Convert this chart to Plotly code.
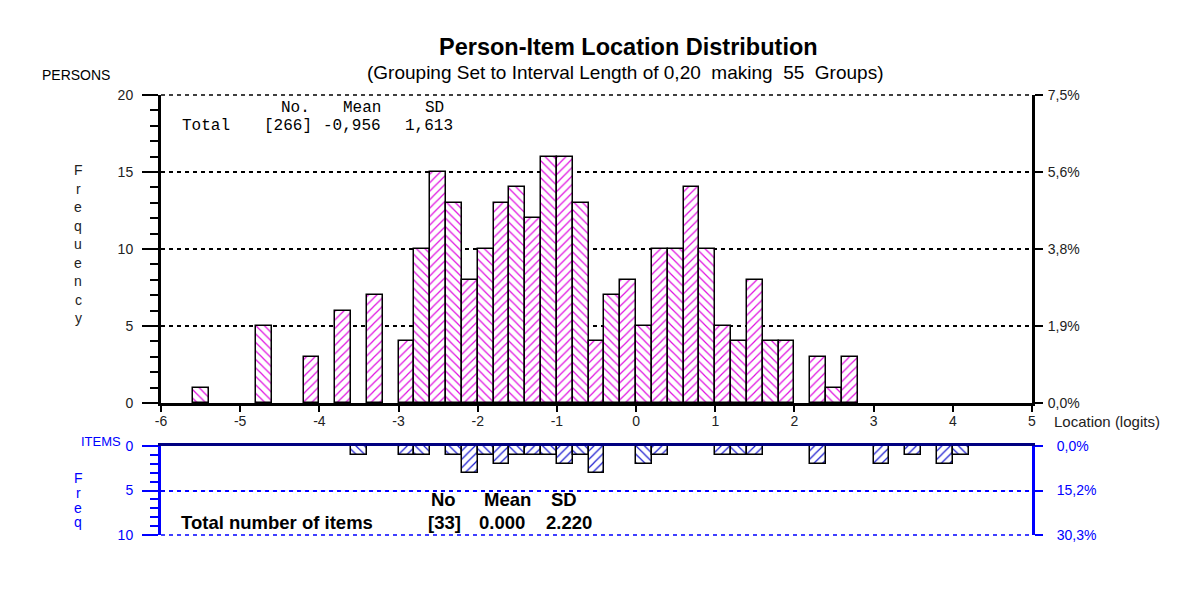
import plotly.graph_objects as go

# ---------------- data ----------------
person_locations = [-5.5, -4.7, -4.1, -3.7, -3.3, -2.9, -2.7, -2.5, -2.3, -2.1, -1.9, -1.7, -1.5,
                    -1.3, -1.1, -0.9, -0.7, -0.5, -0.3, -0.1, 0.1, 0.3, 0.5, 0.7, 0.9, 1.1, 1.3,
                    1.5, 1.7, 1.9, 2.3, 2.5, 2.7]
person_counts = [1, 5, 3, 6, 7, 4, 10, 15, 13, 8, 10, 13, 14,
                 12, 16, 16, 13, 4, 7, 8, 5, 10, 10, 14, 10, 5, 4,
                 8, 4, 4, 3, 1, 3]

item_locations = [-3.5, -2.9, -2.7, -2.3, -2.1, -1.9, -1.7, -1.5, -1.3, -1.1, -0.9, -0.7, -0.5,
                  0.1, 0.3, 1.1, 1.3, 1.5, 2.3, 3.1, 3.5, 3.9, 4.1]
item_counts = [1, 1, 1, 1, 3, 1, 2, 1, 1, 1, 2, 1, 3,
               2, 1, 1, 1, 1, 2, 2, 1, 2, 1]

x_ticks = [-6, -5, -4, -3, -2, -1, 0, 1, 2, 3, 4, 5]
person_ticks = [0, 5, 10, 15, 20]
item_ticks = [0, 5, 10]
bin_width = 0.2
x_min, x_max = -6, 5

title = "Person-Item Location Distribution"
subtitle = "(Grouping Set to Interval Length of 0,20  making  55  Groups)"
person_stats_head = ["No.", "Mean", "SD"]
person_stats_vals = ["Total", "[266]", "-0,956", "1,613"]
item_stats_head = ["No", "Mean", "SD"]
item_stats_vals = ["Total number of items", "[33]", "0.000", "2.220"]

# ---------------- layout helpers ----------------
OFF = 8                            # default page body margin
W, H = 1200 - 2 * OFF, 604 - 2 * OFF
L, R, T, B = 161, 1032, 95, 535    # plot area in page pixels
TOP_BOTTOM = 403                   # page pixel of person axis zero
ITEM_TOP = 446                     # page pixel of item axis zero


def px(x):
    return (x - L) / (R - L)


def py(y):
    return (B - y) / (B - T)


def pct_labels(ticks, total):
    return [f"{t / total * 100:.1f}%".replace(".", ",") for t in ticks]


def hatch(locs):
    return ["\\" if round((v - x_min - bin_width / 2) / bin_width) % 2 == 0 else "/" for v in locs]


FONT = "Liberation Sans, Arial, sans-serif"
MONO = "Liberation Mono, Courier New, monospace"
BLUE = "#0000ff"
NAVY = "#000080"
MAGENTA = "#e010e0"
HBLUE = "#1a1ad0"
TXT = "#222222"

fig = go.Figure()

fig.add_trace(go.Bar(
    x=person_locations, y=person_counts, width=bin_width,
    marker=dict(color="white", line=dict(color="black", width=1.5),
                pattern=dict(shape=hatch(person_locations),
                             fgcolor=[MAGENTA] * len(person_locations), fgopacity=1,
                             bgcolor="white", size=6, solidity=0.2)),
    xaxis="x", yaxis="y", showlegend=False, hoverinfo="x+y"))

fig.add_trace(go.Bar(
    x=item_locations, y=item_counts, width=bin_width,
    marker=dict(color="white", line=dict(color="black", width=1.5),
                pattern=dict(shape=hatch(item_locations),
                             fgcolor=[HBLUE] * len(item_locations), fgopacity=1,
                             bgcolor="white", size=6, solidity=0.2)),
    xaxis="x2", yaxis="y3", showlegend=False, hoverinfo="x+y"))

# invisible traces to hold the right-hand axes
fig.add_trace(go.Scatter(x=[x_min], y=[0], xaxis="x", yaxis="y2", mode="markers",
                         marker=dict(opacity=0), showlegend=False, hoverinfo="skip"))
fig.add_trace(go.Scatter(x=[x_min], y=[0], xaxis="x2", yaxis="y4", mode="markers",
                         marker=dict(opacity=0), showlegend=False, hoverinfo="skip"))

top_dom = [py(TOP_BOTTOM), 1]
bot_dom = [0, py(ITEM_TOP)]

fig.update_layout(
    width=W, height=H,
    margin=dict(l=L - OFF, r=W - (R - OFF), t=T - OFF, b=H - (B - OFF)),
    paper_bgcolor="white", plot_bgcolor="white",
    bargap=0,
    font=dict(family=FONT, size=14, color="black"),
    xaxis=dict(domain=[0, 1], range=[x_min, x_max], anchor="y",
               tickvals=x_ticks, ticktext=[str(t) for t in x_ticks],
               showline=True, linecolor="black", linewidth=3,
               ticks="outside", ticklen=6, tickwidth=1.5, tickcolor="black",
               ticklabelstandoff=-3,
               showgrid=False, zeroline=False,
               tickfont=dict(family=FONT, size=14, color=TXT)),
    yaxis=dict(domain=top_dom, range=[0, 20], anchor="x",
               tickvals=person_ticks, showline=True, linecolor="black", linewidth=3,
               ticks="outside", ticklen=16, tickwidth=1.5, tickcolor="black",
               ticklabelstandoff=6,
               minor=dict(dtick=1, ticklen=8, tickwidth=1.5, tickcolor="black", ticks="outside",
                          showgrid=False),
               showgrid=True, gridcolor="black", gridwidth=1.5, griddash="4px,4px",
               zeroline=False, tickfont=dict(family=FONT, size=14, color=TXT)),
    yaxis2=dict(domain=top_dom, range=[0, 20], overlaying="y", side="right", anchor="x",
                tickvals=person_ticks, ticktext=pct_labels(person_ticks, sum(person_counts)),
                showline=True, linecolor="black", linewidth=3,
                ticks="outside", ticklen=8, tickwidth=1.5, tickcolor="black",
                ticklabelstandoff=2,
                showgrid=False, zeroline=False, tickfont=dict(family=FONT, size=14, color=TXT)),
    xaxis2=dict(domain=[0, 1], range=[x_min, x_max], anchor="y3", side="top",
                showline=True, linecolor=NAVY, linewidth=3, showticklabels=False,
                ticks="", showgrid=False, zeroline=False),
    yaxis3=dict(domain=bot_dom, range=[10, 0], anchor="x2",
                tickvals=item_ticks, showline=True, linecolor=BLUE, linewidth=3,
                ticks="outside", ticklen=16, tickwidth=1.5, tickcolor=BLUE,
                ticklabelstandoff=6,
                minor=dict(dtick=1, ticklen=8, tickwidth=1.5, tickcolor=BLUE, ticks="outside",
                           showgrid=False),
                showgrid=True, gridcolor=BLUE, gridwidth=1.5, griddash="4px,4px",
                zeroline=False, tickfont=dict(family=FONT, size=14, color=BLUE)),
    yaxis4=dict(domain=bot_dom, range=[10, 0], overlaying="y3", side="right", anchor="x2",
                tickvals=item_ticks, ticktext=pct_labels(item_ticks, sum(item_counts)),
                showline=True, linecolor=BLUE, linewidth=3,
                ticks="outside", ticklen=8, tickwidth=1.5, tickcolor=BLUE,
                ticklabelstandoff=11,
                showgrid=False, zeroline=False, tickfont=dict(family=FONT, size=14, color=BLUE)),
)

# dashed boundary lines on the range edges (paper-referenced so they are not clipped)
fig.add_shape(type="line", xref="paper", yref="paper", x0=0, x1=1, y0=top_dom[1], y1=top_dom[1],
              line=dict(color="black", width=1.5, dash="4px,4px"), layer="above")
fig.add_shape(type="line", xref="paper", yref="paper", x0=0, x1=1, y0=bot_dom[0], y1=bot_dom[0],
              line=dict(color=BLUE, width=1.5, dash="4px,4px"), layer="above")

ann = []


def add_text(text, x, y, size=14, color="black", family=FONT, xanchor="left", bold=False):
    ann.append(dict(text=f"<b>{text}</b>" if bold else text, x=px(x), y=py(y),
                    xref="paper", yref="paper", showarrow=False, xanchor=xanchor,
                    yanchor="middle", font=dict(size=size, color=color, family=family)))


add_text(title, 628, 47, size=23.5, xanchor="center", bold=True)
add_text(subtitle, 625, 72, size=19, xanchor="center")
add_text("PERSONS", 40, 75, size=14)
add_text("Location (logits)", 1052, 421, size=15, color=TXT)
add_text("ITEMS", 79, 441, size=13, color=BLUE)

for i, ch in enumerate("Frequency"):
    add_text(ch, 78, 170 + i * 18.5, size=14, xanchor="center", color=TXT)
for i, ch in enumerate("Freq"):
    add_text(ch, 78, 478 + i * 14.8, size=14, xanchor="center", color=BLUE)

# person statistics box (monospace)
for txt, x in zip(person_stats_head, [279, 341, 423]):
    add_text(txt, x, 108, size=16, family=MONO)
for txt, x in zip(person_stats_vals, [180, 262, 321, 403]):
    add_text(txt, x, 126, size=16, family=MONO)

# item statistics
for txt, x in zip(item_stats_head, [429, 482, 549]):
    add_text(txt, x, 499, size=18.5, bold=True)
for txt, x in zip(item_stats_vals, [179, 426, 477, 544]):
    add_text(txt, x, 522, size=18.5, bold=True)

fig.update_layout(annotations=ann)

fig.write_html("out.html")
